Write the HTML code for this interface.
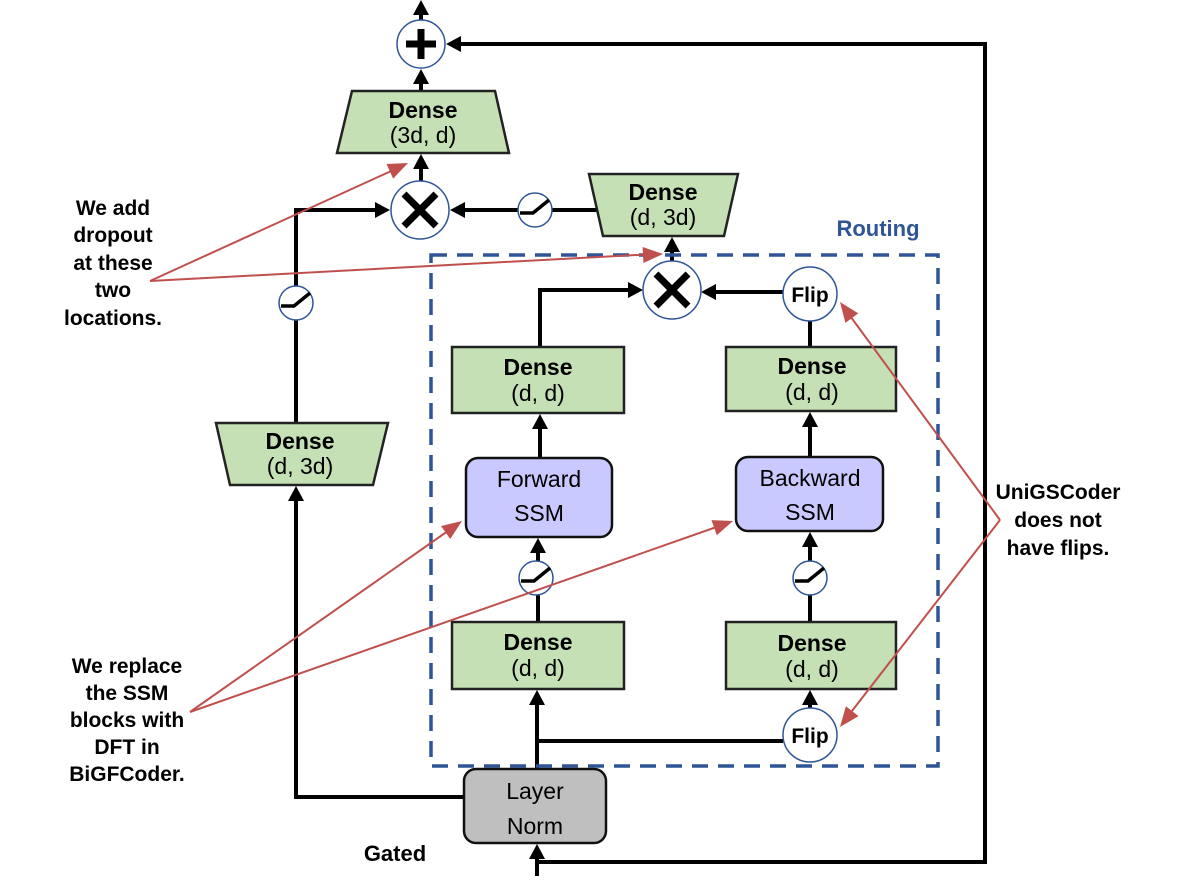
<!DOCTYPE html>
<html><head><meta charset="utf-8"><style>
html,body{margin:0;padding:0;background:#fff;}
svg{display:block;}
text{font-family:"Liberation Sans",sans-serif;}
</style></head><body>
<svg width="1196" height="882" viewBox="0 0 1196 882" xmlns="http://www.w3.org/2000/svg">
<g stroke="#000" stroke-width="4" fill="none">
<line x1="421" y1="20" x2="421" y2="8"/>
<polyline points="537,876 537,862 985,862 985,44 454,44"/>
<line x1="537" y1="876" x2="537" y2="852"/>
<line x1="421" y1="90" x2="421" y2="77"/>
<line x1="421" y1="181" x2="421" y2="162"/>
<line x1="598" y1="210" x2="458" y2="210"/>
<polyline points="296,422 296,210 382,210"/>
<polyline points="463,797 296,797 296,494"/>
<line x1="672" y1="261" x2="672" y2="245"/>
<polyline points="540,347 540,290 635,290"/>
<line x1="783" y1="292" x2="709" y2="292"/>
<line x1="810" y1="321" x2="810" y2="347"/>
<line x1="540" y1="458" x2="540" y2="422"/>
<line x1="810" y1="458" x2="810" y2="420"/>
<line x1="538" y1="621" x2="538" y2="546"/>
<line x1="810" y1="621" x2="810" y2="540"/>
<line x1="537" y1="769" x2="537" y2="698"/>
<line x1="537" y1="741" x2="783" y2="741"/>
<line x1="810" y1="708" x2="810" y2="698"/>
</g>
<g fill="#000">
<polygon points="0,0 -15,-8 -15,8" transform="translate(421,0) rotate(-90)"/>
<polygon points="0,0 -15,-8 -15,8" transform="translate(446,44) rotate(180)"/>
<polygon points="0,0 -15,-8 -15,8" transform="translate(537,844) rotate(-90)"/>
<polygon points="0,0 -15,-8 -15,8" transform="translate(421,69) rotate(-90)"/>
<polygon points="0,0 -15,-8 -15,8" transform="translate(421,154) rotate(-90)"/>
<polygon points="0,0 -15,-8 -15,8" transform="translate(450,210) rotate(180)"/>
<polygon points="0,0 -15,-8 -15,8" transform="translate(390,210)"/>
<polygon points="0,0 -15,-8 -15,8" transform="translate(296,486) rotate(-90)"/>
<polygon points="0,0 -15,-8 -15,8" transform="translate(672,237) rotate(-90)"/>
<polygon points="0,0 -15,-8 -15,8" transform="translate(643,290)"/>
<polygon points="0,0 -15,-8 -15,8" transform="translate(701,292) rotate(180)"/>
<polygon points="0,0 -15,-8 -15,8" transform="translate(540,414) rotate(-90)"/>
<polygon points="0,0 -15,-8 -15,8" transform="translate(810,412) rotate(-90)"/>
<polygon points="0,0 -15,-8 -15,8" transform="translate(538,538) rotate(-90)"/>
<polygon points="0,0 -15,-8 -15,8" transform="translate(810,532) rotate(-90)"/>
<polygon points="0,0 -15,-8 -15,8" transform="translate(537,690) rotate(-90)"/>
<polygon points="0,0 -15,-8 -15,8" transform="translate(810,690) rotate(-90)"/>
</g>
<rect x="431" y="255" width="507" height="511" fill="none" stroke="#2f5597" stroke-width="3.5" stroke-dasharray="16,10"/>
<text x="878" y="236" font-size="22" font-weight="bold" fill="#2f5597" text-anchor="middle">Routing</text>
<g fill="#c5e0b4" stroke="#222" stroke-width="2.5">
<polygon points="352,91 495,91 509,153 337,153"/>
<polygon points="589,174 738,174 724,236 603,236"/>
<polygon points="216,423 388,423 373,485 230,485"/>
<rect x="452" y="347" width="172" height="66"/>
<rect x="726" y="347" width="170" height="64"/>
<rect x="452" y="622" width="172" height="67"/>
<rect x="726" y="622" width="170" height="67"/>
</g>
<g font-size="23" text-anchor="middle" fill="#000">
<text x="423" y="118" font-weight="bold">Dense</text><text x="423" y="143">(3d, d)</text>
<text x="663" y="200" font-weight="bold">Dense</text><text x="663" y="225">(d, 3d)</text>
<text x="300" y="449" font-weight="bold">Dense</text><text x="300" y="474">(d, 3d)</text>
<text x="538" y="375" font-weight="bold">Dense</text><text x="538" y="401">(d, d)</text>
<text x="812" y="374" font-weight="bold">Dense</text><text x="812" y="400">(d, d)</text>
<text x="538" y="650" font-weight="bold">Dense</text><text x="538" y="676">(d, d)</text>
<text x="812" y="651" font-weight="bold">Dense</text><text x="812" y="677">(d, d)</text>
</g>
<rect x="466" y="458" width="146" height="79" rx="12" fill="#c9c9ff" stroke="#111" stroke-width="2.5"/>
<rect x="736" y="457" width="147" height="74" rx="12" fill="#c9c9ff" stroke="#111" stroke-width="2.5"/>
<text x="539" y="487" font-size="23" text-anchor="middle">Forward</text><text x="539" y="521" font-size="23" text-anchor="middle">SSM</text>
<text x="810" y="486" font-size="23" text-anchor="middle">Backward</text><text x="810" y="520" font-size="23" text-anchor="middle">SSM</text>
<rect x="464" y="769" width="142" height="74" rx="12" fill="#bfbfbf" stroke="#111" stroke-width="2.5"/>
<text x="535" y="799" font-size="23" text-anchor="middle">Layer</text><text x="535" y="834" font-size="23" text-anchor="middle">Norm</text>
<text x="395" y="861" font-size="22" font-weight="bold" text-anchor="middle">Gated</text>
<g fill="#fff" stroke="#2f5597" stroke-width="1.5">
<circle cx="421" cy="44" r="24"/>
<circle cx="420" cy="210" r="29"/>
<circle cx="672" cy="290" r="29"/>
<circle cx="535" cy="210" r="17"/>
<circle cx="296" cy="303" r="17"/>
<circle cx="536" cy="578" r="17"/>
<circle cx="810" cy="578" r="17"/>
<circle cx="810" cy="294" r="27"/>
<circle cx="810" cy="735" r="27"/>
</g>
<g stroke="#000" stroke-width="7" stroke-linecap="butt">
<line x1="421" y1="29" x2="421" y2="59"/><line x1="406" y1="44" x2="436" y2="44"/>
<line x1="404" y1="194" x2="436" y2="226"/><line x1="436" y1="194" x2="404" y2="226"/>
<line x1="656" y1="274" x2="688" y2="306"/><line x1="688" y1="274" x2="656" y2="306"/>
</g>
<g stroke="#000" stroke-width="3.5" fill="none">
<polyline points="520,213 533,213 549,200"/>
<polyline points="281,306 294,306 310,293"/>
<polyline points="521,581 534,581 550,568"/>
<polyline points="795,581 808,581 824,568"/>
</g>
<text x="810" y="302" font-size="21" font-weight="bold" text-anchor="middle">Flip</text>
<text x="810" y="743" font-size="21" font-weight="bold" text-anchor="middle">Flip</text>
<g font-size="21" font-weight="bold" text-anchor="middle" fill="#000">
<text x="113" y="215">We add</text><text x="113" y="242">dropout</text><text x="113" y="270">at these</text><text x="113" y="297">two</text><text x="113" y="325">locations.</text>
<text x="127" y="673">We replace</text><text x="127" y="700">the SSM</text><text x="127" y="727">blocks with</text><text x="127" y="754">DFT in</text><text x="127" y="781">BiGFCoder.</text>
<text x="1058" y="499">UniGSCoder</text><text x="1058" y="527">does not</text><text x="1058" y="555">have flips.</text>
</g>
<g stroke="#c0504d" stroke-width="2" fill="none">
<line x1="150" y1="281" x2="400" y2="167"/>
<line x1="150" y1="281" x2="655" y2="254"/>
<line x1="190" y1="712" x2="455" y2="526"/>
<line x1="190" y1="712" x2="725" y2="524"/>
<line x1="1000" y1="520" x2="845" y2="309"/>
<line x1="1000" y1="520" x2="845" y2="720"/>
</g>
<g fill="#c0504d">
<polygon points="0,0 -20,-8 -20,8" transform="translate(408,163) rotate(-24.6)"/>
<polygon points="0,0 -20,-8 -20,8" transform="translate(663,254) rotate(-3)"/>
<polygon points="0,0 -20,-8 -20,8" transform="translate(462,521) rotate(-35.1)"/>
<polygon points="0,0 -20,-8 -20,8" transform="translate(733,521) rotate(-19.4)"/>
<polygon points="0,0 -20,-8 -20,8" transform="translate(840,302) rotate(-126.3)"/>
<polygon points="0,0 -20,-8 -20,8" transform="translate(840,727) rotate(127.7)"/>
</g>
</svg>
</body></html>
